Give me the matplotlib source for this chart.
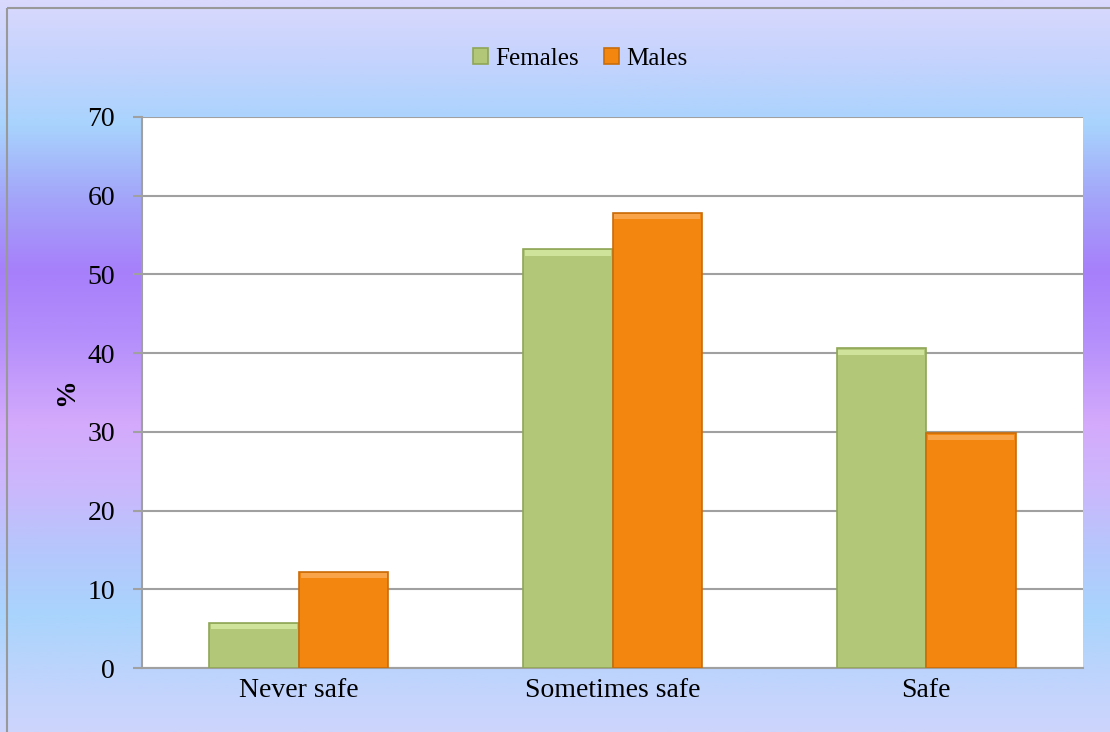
import numpy as np
import matplotlib.pyplot as plt
from matplotlib.colors import LinearSegmentedColormap
from matplotlib.patches import Rectangle

categories = ["Never safe", "Sometimes safe", "Safe"]
females = [5.7, 53.2, 40.6]
males = [12.2, 57.8, 29.8]
y_ticks = [0, 10, 20, 30, 40, 50, 60, 70]

plt.rcParams['font.family'] = ['Liberation Serif', 'DejaVu Serif']

fig = plt.figure(figsize=(11.1, 7.32), dpi=100)

# background gradient
bg = fig.add_axes([0, 0, 1, 1], zorder=-10)
stops = [(0.0, "#d9d9fd"), (0.08, "#c5d3fd"), (0.17, "#a8d3fd"), (0.27, "#a3a5f9"),
         (0.37, "#a77ffb"), (0.46, "#b48efb"), (0.58, "#d4aafc"), (0.67, "#cbb8fc"),
         (0.75, "#b6c6fc"), (0.84, "#a9d4fd"), (0.95, "#c4d4fc"), (1.0, "#cdd5fd")]
cmap = LinearSegmentedColormap.from_list("bg", stops)
grad = np.linspace(0, 1, 512).reshape(-1, 1)
bg.imshow(grad, aspect="auto", cmap=cmap, extent=[0, 1, 1, 0])
bg.set_xlim(0, 1)
bg.set_ylim(1, 0)
bg.axis("off")
bg.add_patch(Rectangle((7 / 1110, 8 / 732), 1.2, 1.2, fill=False,
                       edgecolor="#999999", linewidth=1.5))

ax = fig.add_axes([142 / 1110, 1 - 668 / 732, (1083 - 142) / 1110, (668 - 117) / 732])
ax.set_facecolor("white")

x = np.arange(len(categories))
w = 1 / 3.5
fb = ax.bar(x - w / 2, females, w, color="#b2c878", edgecolor="#8fa656", linewidth=1.2,
            label="Females", zorder=3)
mb = ax.bar(x + w / 2, males, w, color="#f3860f", edgecolor="#c96c0a", linewidth=1.2,
            label="Males", zorder=3)

# soft bevel strip along the top of each bar
for bars, light in [(fb, "#cfe49a"), (mb, "#f9a448")]:
    for b in bars:
        bx, bw, bh = b.get_x(), b.get_width(), b.get_height()
        ax.add_patch(Rectangle((bx + bw * 0.02, bh - 0.8), bw * 0.96, 0.65,
                               facecolor=light, edgecolor="none", zorder=4))

ax.set_xlim(-0.5, 2.5)
ax.set_ylim(0, 70)
ax.set_yticks(y_ticks)
ax.set_xticks(x)
ax.set_xticklabels(categories)
ax.yaxis.grid(True, color="#a0a0a0", linewidth=1.5)
ax.set_axisbelow(True)
for s in ["top", "right"]:
    ax.spines[s].set_visible(False)
for s in ["left", "bottom"]:
    ax.spines[s].set_color("#a0a0a0")
    ax.spines[s].set_linewidth(1.5)
ax.tick_params(axis="y", colors="#a0a0a0", length=6.5, width=1.5, labelcolor="black",
               labelsize=20, pad=13)
ax.tick_params(axis="x", length=0, labelsize=20, pad=7)
ax.set_ylabel("%", fontsize=20, fontweight="bold", labelpad=6)

fig.legend(loc="center", bbox_to_anchor=(580 / 1110, 1 - 59 / 732), ncol=2,
           frameon=False, fontsize=18, handlelength=0.6, handleheight=0.6,
           handletextpad=0.3, columnspacing=1.0)

fig.savefig("out.png", dpi=100)
